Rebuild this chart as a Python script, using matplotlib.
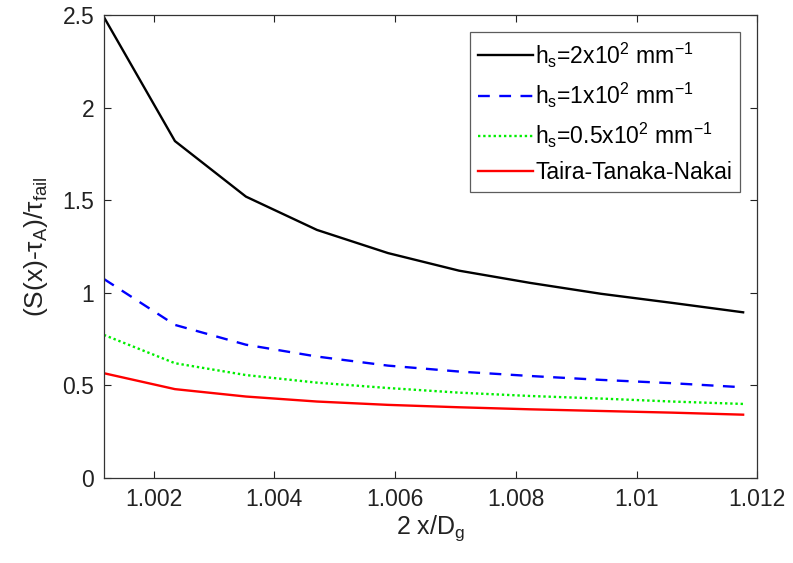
import matplotlib
matplotlib.use("Agg")
import matplotlib.pyplot as plt

plt.rcParams["font.family"] = ["Liberation Sans", "DejaVu Sans"]
plt.rcParams["mathtext.fontset"] = "custom"
plt.rcParams["mathtext.rm"] = "Liberation Sans"
plt.rcParams["mathtext.it"] = "Liberation Sans:italic"
plt.rcParams["mathtext.default"] = "regular"

# x positions 2x/Dg
x = [1.001176, 1.002353, 1.003529, 1.004706, 1.005882,
     1.007059, 1.008235, 1.009412, 1.010588, 1.011765]

hs_2 = [2.49, 1.82, 1.52, 1.34, 1.215, 1.12, 1.054, 0.995, 0.946, 0.895]
hs_1 = [1.075, 0.827, 0.72, 0.656, 0.607, 0.575, 0.551, 0.53, 0.512, 0.49]
hs_05 = [0.773, 0.62, 0.556, 0.515, 0.486, 0.461, 0.443, 0.429, 0.413, 0.40]
ttn = [0.566, 0.48, 0.44, 0.413, 0.395, 0.382, 0.371, 0.362, 0.353, 0.342]

labels = [r"h$_s$=2x10$^2$ mm$^{-1}$",
          r"h$_s$=1x10$^2$ mm$^{-1}$",
          r"h$_s$=0.5x10$^2$ mm$^{-1}$",
          "Taira-Tanaka-Nakai"]

xticks = [1.002, 1.004, 1.006, 1.008, 1.01, 1.012]
xtick_labels = ["1.002", "1.004", "1.006", "1.008", "1.01", "1.012"]
yticks = [0, 0.5, 1, 1.5, 2, 2.5]
ytick_labels = ["0", "0.5", "1", "1.5", "2", "2.5"]

fig = plt.figure(figsize=(7.93, 5.63), dpi=100)
ax = fig.add_axes([0.131, 0.151, 0.824, 0.822])

ax.plot(x, hs_2, color="black", lw=1.7, label=labels[0])
ax.plot(x, hs_1, color="blue", lw=1.7, ls=(0, (5, 4)), label=labels[1])
ax.plot(x, hs_05, color="#00ee00", lw=1.7, ls=(0, (1, 1.2)), label=labels[2])
ax.plot(x, ttn, color="red", lw=1.7, label=labels[3])

ax.set_xlim(1.001176, 1.012)
ax.set_ylim(0, 2.5)
ax.set_xticks(xticks)
ax.set_xticklabels(xtick_labels)
ax.set_yticks(yticks)
ax.set_yticklabels(ytick_labels)
ax.tick_params(direction="in", top=True, right=True, length=5,
               labelsize=16.5, colors="#222222", pad=7)
for sp in ax.spines.values():
    sp.set_color("#333333")
    sp.set_linewidth(0.9)

ax.set_xlabel(r"2 x/D$_g$", fontsize=18, color="#222222", labelpad=2)
ax.set_ylabel(r"(S(x)-$\tau_A$)/$\tau_{fail}$", fontsize=19, color="#222222", labelpad=9)

leg = ax.legend(loc="upper right", fontsize=16.5, frameon=True, fancybox=False,
                edgecolor="#333333", handlelength=2.4, handletextpad=0.1,
                borderaxespad=0.75, labelspacing=0.48, borderpad=0.35)
leg.get_frame().set_linewidth(0.9)

fig.savefig("out.png", dpi=100)
